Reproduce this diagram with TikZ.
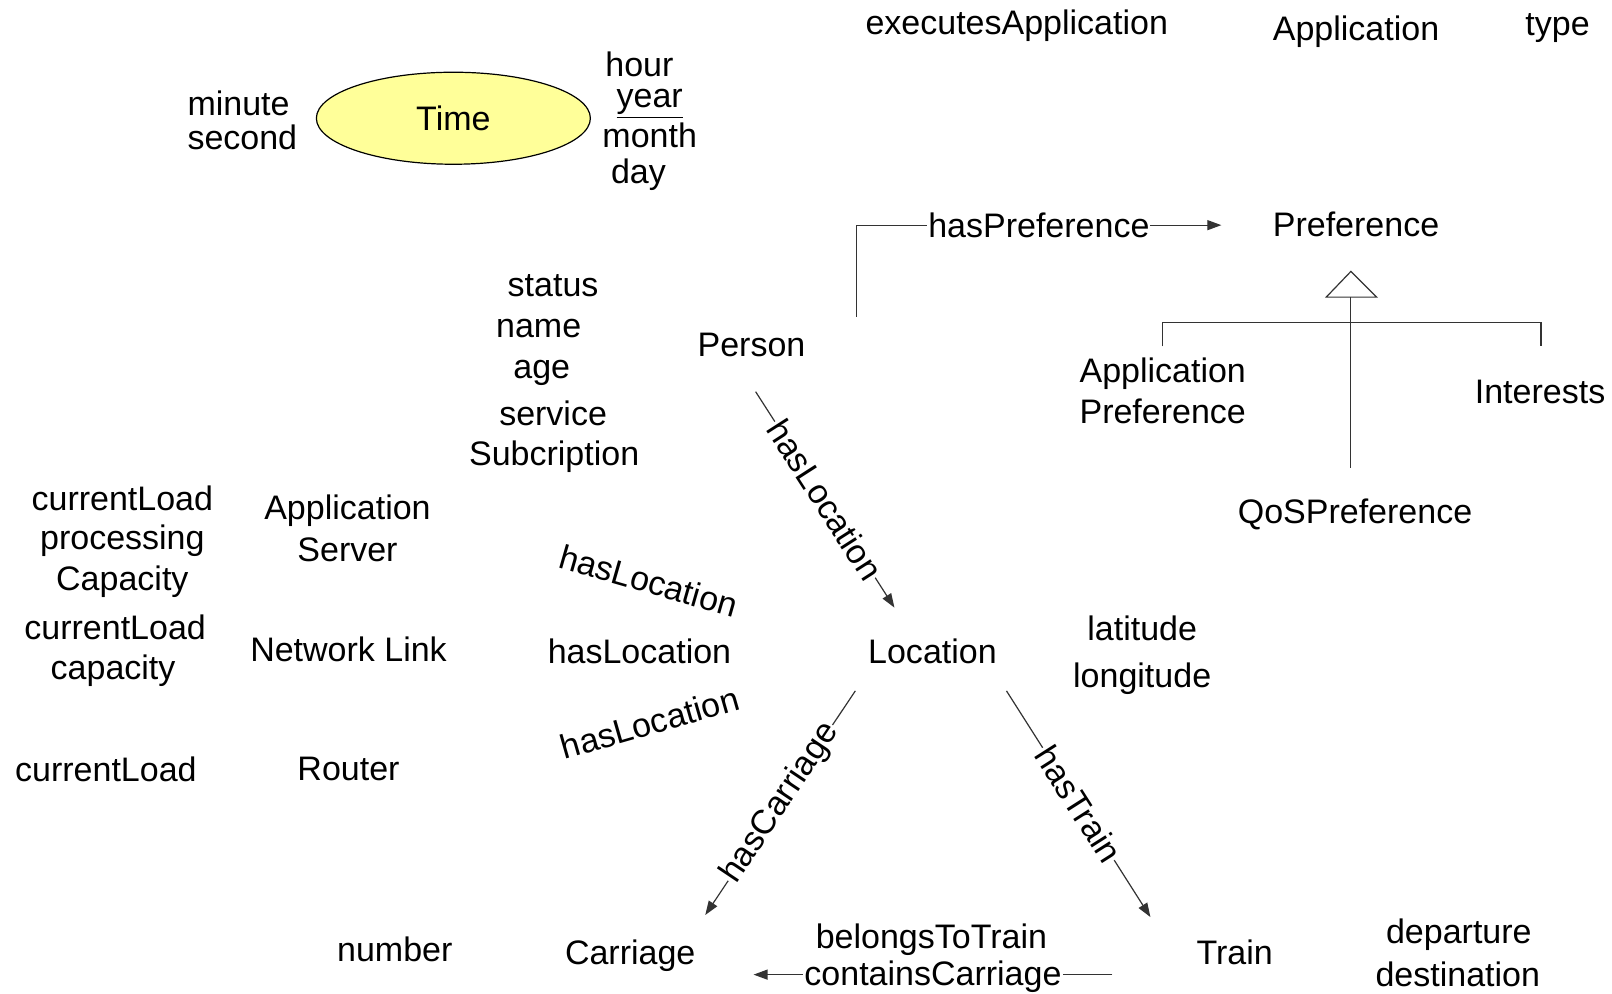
\documentclass[tikz,border=0pt]{standalone}
\usepackage{fontspec}
\setmainfont{Liberation Sans}
\usetikzlibrary{arrows.meta,shapes.geometric}
\definecolor{timeyellow}{HTML}{FFFF99}
\definecolor{lineclr}{HTML}{333333}
\begin{document}
\begin{tikzpicture}[x=0.514pt,y=-0.514pt,
  t/.style={inner sep=0pt, anchor=base, font=\fontsize{17}{20}\selectfont},
  tc/.style={inner sep=0pt, anchor=center, font=\fontsize{17}{20}\selectfont},
  conn/.style={draw=lineclr, line width=0.6pt},
  arr/.style={conn, -{Triangle[length=7pt,width=5pt]}},
  lbl/.style={font=\fontsize{17}{20}\selectfont, fill=white, inner xsep=0.5pt, inner ysep=0pt},
  tree/.style={draw=lineclr, line width=0.6pt}
]
\useasboundingbox (0,0) rectangle (1568,966);

% top row
\node[t] (execApp) at (989,34) {executesApplication};
\node[t] (app) at (1319,39) {Application};
\node[t] (type) at (1515,35) {type};

% Time
\node[ellipse, draw=black, line width=0.6pt, fill=timeyellow, minimum width=137pt, minimum height=46pt, inner sep=0pt, font=\fontsize{17}{20}\selectfont] (time) at (441,115) {Time};
\node[t, anchor=base west] (minute) at (182,112) {minute};
\node[t, anchor=base west] (second) at (182,145) {second};
\node[t] (hour) at (622,74) {hour};
\node[t] (year) at (632,105) {\underline{year}};
\node[t] (month) at (632,143) {month};
\node[t] (day) at (621,178) {day};

% Person and attributes
\node[t] (status) at (538,288) {status};
\node[t] (name) at (524,328) {name};
\node[t] (age) at (527,368) {age};
\node[t] (service) at (538,414) {service};
\node[t] (subcr) at (539,453) {Subcription};
\node[t] (person) at (731,347) {Person};

% Preference hierarchy
\node[t] (pref) at (1319,230) {Preference};
\node[t] (appPref1) at (1131,372) {Application};
\node[t] (appPref2) at (1131,412) {Preference};
\node[t] (interests) at (1498,392) {Interests};
\node[t] (qos) at (1318,509) {QoSPreference};

\coordinate (triApex) at (1314,264);
\coordinate (triL) at (1290,289);
\coordinate (triR) at (1339,289);
\coordinate (triBase) at (1314,289);
\coordinate (qosTop) at (1314,455);
\coordinate (barL) at (1131,314);
\coordinate (barR) at (1499,314);
\coordinate (apTop) at (1131,337);
\coordinate (inTop) at (1499,337);

\draw[tree, fill=white] (triL) -- (triApex) -- (triR) -- cycle;
\draw[tree] (triBase) -- (qosTop);
\draw[tree] (apTop) -- (barL) -- (barR) -- (inTop);

% hasPreference
\coordinate (pTop) at (833,308);
\coordinate (prefIn) at (1188,219);
\draw[arr] (pTop) |- node[pos=0.75, lbl] (hasPref) {hasPreference} (prefIn);

% left side resources
\node[t] (cl1) at (119,497) {currentLoad};
\node[t] (proc) at (119,534) {processing};
\node[t] (capac1) at (119,574) {Capacity};
\node[t] (as1) at (338,505) {Application};
\node[t] (as2) at (338,546) {Server};
\node[t] (cl2) at (112,622) {currentLoad};
\node[t] (capac2) at (110,661) {capacity};
\node[t] (netlink) at (339,643) {Network Link};
\node[t] (cl3) at (103,760) {currentLoad};
\node[t] (router) at (339,759) {Router};

\node[tc, rotate=-16] (hl1) at (631,565) {hasLocation};
\node[t] (hl2) at (622,645) {hasLocation};
\node[tc, rotate=16] (hl3) at (632,703) {hasLocation};

% Location
\node[t] (location) at (907,645) {Location};
\node[t] (lat) at (1111,623) {latitude};
\node[t] (lon) at (1111,669) {longitude};

\coordinate (pl1) at (735,381);
\coordinate (pl2) at (870,591);
\draw[arr] (pl1) -- node[lbl, sloped] (hasLocP) {hasLocation} (pl2);

% Carriage / Train
\node[t] (number) at (384,935) {number};
\node[t] (carriage) at (613,938) {Carriage};
\node[t] (train) at (1201,938) {Train};
\node[t] (dep) at (1419,918) {departure};
\node[t] (dest) at (1418,960) {destination};

\coordinate (lc1) at (832,672);
\coordinate (lc2) at (686,890);
\draw[arr] (lc1) -- node[lbl, sloped] (hasCar) {hasCarriage} (lc2);

\coordinate (lt1) at (979,672);
\coordinate (lt2) at (1119,892);
\draw[arr] (lt1) -- node[lbl, sloped] (hasTrain) {hasTrain} (lt2);

\coordinate (tc1) at (1082,948);
\coordinate (tc2) at (733,948);
\draw[arr] (tc1) -- node[lbl, yshift=-1pt] (contC) {containsCarriage} (tc2);
\node[t] (belongs) at (906,923) {belongsToTrain};

\end{tikzpicture}
\end{document}
